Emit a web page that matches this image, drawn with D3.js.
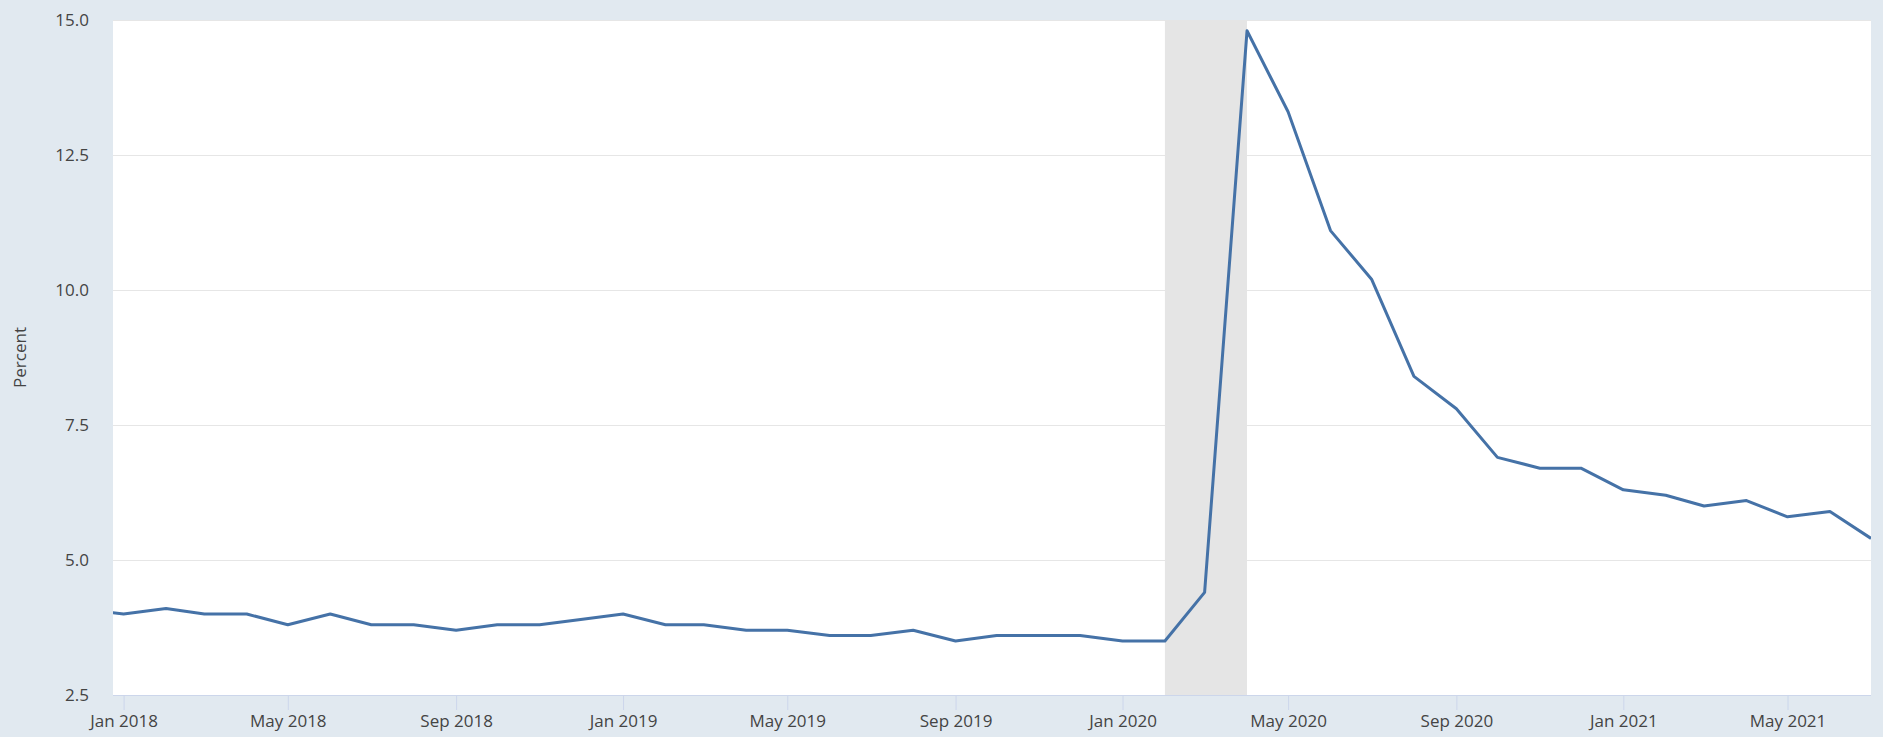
<!DOCTYPE html>
<html>
    <head>
        <meta charset="utf-8">
        <script src="https://d3js.org/d3.v7.min.js"></script>
        <style>
            body { margin: 0; background: #e1e9f0; }
            text { font-family: 'Open Sans', sans-serif; }
        </style>
    </head>
    <body>

        <script>
            // monthly unemployment rate, percent
            var months = [
                '2017-12',
                '2018-01','2018-02','2018-03','2018-04','2018-05','2018-06',
                '2018-07','2018-08','2018-09','2018-10','2018-11','2018-12',
                '2019-01','2019-02','2019-03','2019-04','2019-05','2019-06',
                '2019-07','2019-08','2019-09','2019-10','2019-11','2019-12',
                '2020-01','2020-02','2020-03','2020-04','2020-05','2020-06',
                '2020-07','2020-08','2020-09','2020-10','2020-11','2020-12',
                '2021-01','2021-02','2021-03','2021-04','2021-05','2021-06',
                '2021-07'
            ];
            var rates = [
                4.1,
                4.0, 4.1, 4.0, 4.0, 3.8, 4.0,
                3.8, 3.8, 3.7, 3.8, 3.8, 3.9,
                4.0, 3.8, 3.8, 3.7, 3.7, 3.6,
                3.6, 3.7, 3.5, 3.6, 3.6, 3.6,
                3.5, 3.5, 4.4, 14.8, 13.3, 11.1,
                10.2, 8.4, 7.8, 6.9, 6.7, 6.7,
                6.3, 6.2, 6.0, 6.1, 5.8, 5.9,
                5.4
            ];
            var yTicks = [2.5, 5.0, 7.5, 10.0, 12.5, 15.0];
            var recession = ['2020-02', '2020-04'];
            var axisTitle = 'Percent';

            var parse = d3.timeParse('%Y-%m');
            var data = months.map(function(m, i) {
                return { date: parse(m), value: rates[i] };
            });

            var W = 1883, H = 737;
            var margin = { top: 20, right: 12, bottom: 42, left: 113 },
                width  = W - margin.left - margin.right,
                height = H - margin.top - margin.bottom;

            var svg = d3.select('body')
                        .append('svg')
                        .attr('width', W)
                        .attr('height', H);

            svg.append('rect')
                .attr('width', W)
                .attr('height', H)
                .attr('fill', '#e1e9f0');

            var g = svg.append('g')
                .attr('transform', 'translate(' + margin.left + ',' + margin.top + ')');

            var x = d3.scaleTime()
                .domain([new Date(2017, 11, 24, 6), parse('2021-07')])
                .range([0, width]);

            var y = d3.scaleLinear()
                .domain([2.5, 15])
                .range([height, 0]);

            g.append('rect')
                .attr('width', width)
                .attr('height', height)
                .attr('fill', '#fff');

            // grid + y labels
            var yAxis = g.append('g')
                .call(d3.axisLeft(y)
                    .tickValues(yTicks)
                    .tickSize(-width)
                    .tickPadding(24)
                    .tickFormat(d3.format('.1f')));
            yAxis.select('.domain').remove();
            yAxis.selectAll('line').attr('stroke', '#e6e6e6');
            yAxis.selectAll('text')
                .attr('fill', '#444')
                .style('font-size', '17px');

            // recession shading
            g.append('rect')
                .attr('x', x(parse(recession[0])))
                .attr('y', 0)
                .attr('width', x(parse(recession[1])) - x(parse(recession[0])))
                .attr('height', height)
                .attr('fill', '#e5e5e5');

            // x axis
            var xAxis = g.append('g')
                .attr('transform', 'translate(0,' + height + ')')
                .call(d3.axisBottom(x)
                    .tickValues(d3.timeMonth.every(4).range(parse('2018-01'), parse('2021-06')))
                    .tickSize(15)
                    .tickPadding(5)
                    .tickFormat(d3.timeFormat('%b %Y')));
            xAxis.select('.domain')
                .attr('stroke', '#ccd6eb')
                .attr('d', 'M0,0.5H' + width);
            xAxis.selectAll('line').attr('stroke', '#ccd6eb');
            xAxis.selectAll('text')
                .attr('fill', '#444')
                .style('font-size', '17px');

            svg.append('text')
                .attr('transform', 'translate(26,' + (margin.top + height / 2) + ') rotate(-90)')
                .attr('text-anchor', 'middle')
                .attr('fill', '#444')
                .style('font-size', '17px')
                .text(axisTitle);

            g.append('clipPath')
                .attr('id', 'clip')
                .append('rect')
                .attr('width', width)
                .attr('height', height);

            var line = d3.line()
                .x(function(d) { return x(d.date); })
                .y(function(d) { return y(d.value); });

            g.append('path')
                .datum(data)
                .attr('clip-path', 'url(#clip)')
                .attr('fill', 'none')
                .attr('stroke', '#4572a7')
                .attr('stroke-width', 3)
                .attr('stroke-linejoin', 'round')
                .attr('d', line);
        </script>
    </body>
</html>
